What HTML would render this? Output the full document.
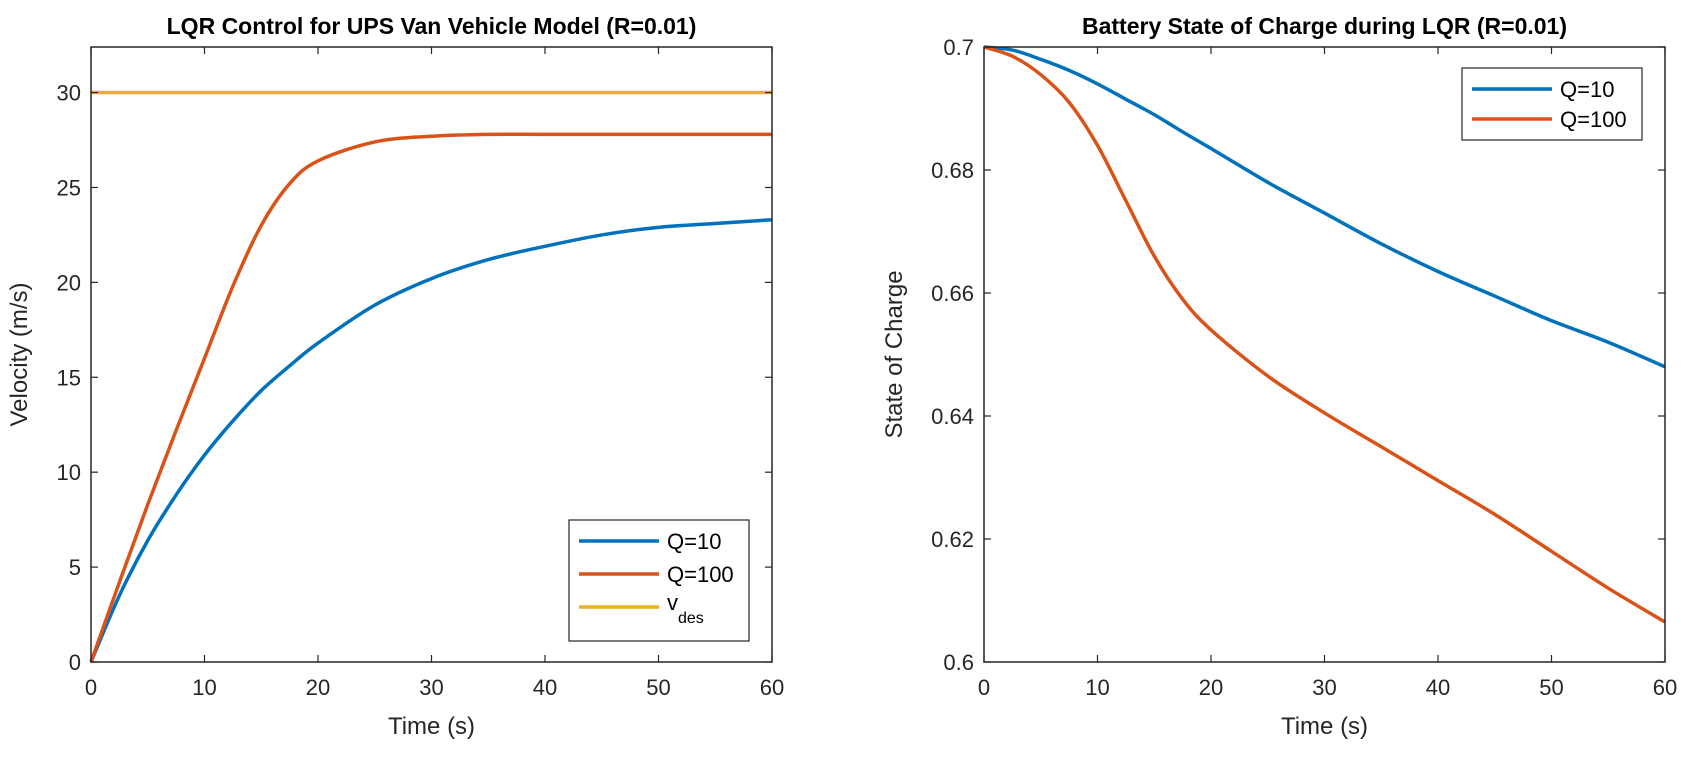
<!DOCTYPE html>
<html><head><meta charset="utf-8">
<style>
html,body{margin:0;padding:0;background:#fff;}
svg text{font-family:"Liberation Sans",Arial,sans-serif;}
</style></head>
<body>
<svg id="fig" width="1681" height="752" viewBox="0 0 1681 752" xmlns="http://www.w3.org/2000/svg">
<g id="left"></g>
<g id="right"></g>
</svg>
<script>
const tVel = [0,2.5,5,7.5,10,12.5,15,17.5,20,25,30,35,40,45,50,55,60];
const velQ10 = [0,3.5,6.4,8.8,10.9,12.7,14.3,15.6,16.8,18.8,20.2,21.2,21.9,22.5,22.9,23.1,23.3];
const velQ100 = [0,4.2,8.3,12.2,16.0,19.8,23.0,25.2,26.4,27.4,27.7,27.8,27.8,27.8,27.8,27.8,27.8];
const vDes = [30,30,30,30,30,30,30,30,30,30,30,30,30,30,30,30,30];
const velYTicks = [0,5,10,15,20,25,30];
const xTicks = [0,10,20,30,40,50,60];
const tSoc = [0,2.5,5,7.5,10,12.5,15,17.5,20,25,30,35,40,45,50,55,60];
const socQ10 = [0.7,0.6995,0.698,0.6962,0.694,0.6915,0.689,0.6862,0.6835,0.678,0.673,0.668,0.6635,0.6595,0.6555,0.652,0.648];
const socQ100 = [0.7,0.6985,0.6955,0.691,0.684,0.675,0.666,0.659,0.654,0.6465,0.6405,0.635,0.6295,0.624,0.618,0.612,0.6065];
const socYTicks = [0.6,0.62,0.64,0.66,0.68,0.7];
const socYLabels = ["0.6","0.62","0.64","0.66","0.68","0.7"];

const NS="http://www.w3.org/2000/svg";
const BLUE="#0072BD",ORANGE="#D95319",YELLOW="#EDB120";
function mk(parent,tag,attrs,text){const e=document.createElementNS(NS,tag);for(const k in attrs)e.setAttribute(k,attrs[k]);if(text!==undefined)e.textContent=text;parent.appendChild(e);return e;}
function smoothPath(pts){let d="M"+pts[0][0]+","+pts[0][1];for(let i=0;i<pts.length-1;i++){const p0=pts[Math.max(0,i-1)],p1=pts[i],p2=pts[i+1],p3=pts[Math.min(pts.length-1,i+2)];const c1x=p1[0]+(p2[0]-p0[0])/6,c1y=p1[1]+(p2[1]-p0[1])/6,c2x=p2[0]-(p3[0]-p1[0])/6,c2y=p2[1]-(p3[1]-p1[1])/6;d+=" C"+c1x+","+c1y+" "+c2x+","+c2y+" "+p2[0]+","+p2[1];}return d;}

function chart(g,cfg){
  const X0=cfg.x0,X1=cfg.x1,Y0=662,Y1=47;
  const sx=v=>X0+(v-0)/(60-0)*(X1-X0);
  const sy=v=>Y0-(v-cfg.ymin)/(cfg.ymax-cfg.ymin)*(Y0-Y1);
  mk(g,"rect",{x:X0,y:Y1,width:X1-X0,height:Y0-Y1,fill:"#fff",stroke:"none"});
  cfg.series.forEach(s=>{
    const pts=s.x.map((v,i)=>[sx(v),sy(s.y[i])]);
    const p=mk(g,"path",{d:smoothPath(pts),fill:"none",stroke:s.color,"stroke-width":3.5,"stroke-linejoin":"round"});
    
    
  });
  mk(g,"rect",{x:X0,y:Y1,width:X1-X0,height:Y0-Y1,fill:"none",stroke:"#262626","stroke-width":1.5});
  xTicks.forEach(v=>{
    const x=sx(v);
    mk(g,"line",{x1:x,y1:Y0,x2:x,y2:Y0-7,stroke:"#262626","stroke-width":1.2});
    mk(g,"line",{x1:x,y1:Y1,x2:x,y2:Y1+7,stroke:"#262626","stroke-width":1.2});
    const t=mk(g,"text",{x:x,y:Y0+33,"text-anchor":"middle","font-size":22,fill:"#262626"},v);
    
    
  });
  cfg.yticks.forEach((v,i)=>{
    const y=sy(v);
    mk(g,"line",{x1:X0,y1:y,x2:X0+7,y2:y,stroke:"#262626","stroke-width":1.2});
    mk(g,"line",{x1:X1,y1:y,x2:X1-7,y2:y,stroke:"#262626","stroke-width":1.2});
    const t=mk(g,"text",{x:X0-10,y:y+8,"text-anchor":"end","font-size":22,fill:"#262626"},cfg.ylabels[i]);
    
    
  });
  const xt=mk(g,"text",{x:(X0+X1)/2,y:Y0+72,"text-anchor":"middle","font-size":24,fill:"#262626"},"Time (s)");
  
  
  const yt=mk(g,"text",{x:0,y:0,"text-anchor":"middle","font-size":24,fill:"#262626",transform:"translate("+cfg.ylx+","+((Y0+Y1)/2)+") rotate(-90)"},cfg.ylabel);
  
  
  const tt=mk(g,"text",{x:(X0+X1)/2,y:34,"text-anchor":"middle","font-size":23,"font-weight":"bold",fill:"#000"},cfg.title);
  
  
  const L=cfg.legend;
  const lg=mk(g,"g",{});
  
  
  mk(lg,"rect",{x:L.x,y:L.y,width:L.w,height:L.h,fill:"#fff",stroke:"#262626","stroke-width":1.2});
  cfg.series.forEach((s,i)=>{
    const ey=L.y+L.first+i*L.step;
    const e=mk(lg,"g",{});
    
    
    mk(e,"line",{x1:L.x+10,y1:ey,x2:L.x+90,y2:ey,stroke:s.color,"stroke-width":3.5});
    if(s.label==="vdes"){
      const t=mk(e,"text",{x:L.x+98,y:ey+3,"font-size":22,fill:"#000"});
      mk(t,"tspan",{},"v");
      mk(t,"tspan",{dy:13,"font-size":16},"des");
    } else {
      mk(e,"text",{x:L.x+98,y:ey+8,"font-size":22,fill:"#000"},s.label);
    }
  });
}
chart(document.getElementById("left"),{
  x0:91,x1:772,ymin:0,ymax:32.4,yticks:velYTicks,ylabels:velYTicks.map(String),
  ylabel:"Velocity (m/s)",ylx:27,title:"LQR Control for UPS Van Vehicle Model (R=0.01)",
  series:[{x:tVel,y:velQ10,color:BLUE,label:"Q=10",name:"line-q10"},
          {x:tVel,y:velQ100,color:ORANGE,label:"Q=100",name:"line-q100"},
          {x:tVel,y:vDes,color:YELLOW,label:"vdes",name:"line-vdes"}],
  legend:{x:569,y:520,w:180,h:121,first:21,step:33}
});
chart(document.getElementById("right"),{
  x0:984,x1:1665,ymin:0.6,ymax:0.7,yticks:socYTicks,ylabels:socYLabels,
  ylabel:"State of Charge",ylx:902,title:"Battery State of Charge during LQR (R=0.01)",
  series:[{x:tSoc,y:socQ10,color:BLUE,label:"Q=10",name:"line-soc-q10"},
          {x:tSoc,y:socQ100,color:ORANGE,label:"Q=100",name:"line-soc-q100"}],
  legend:{x:1462,y:68,w:180,h:72,first:21,step:30}
});
</script>
</body></html>
